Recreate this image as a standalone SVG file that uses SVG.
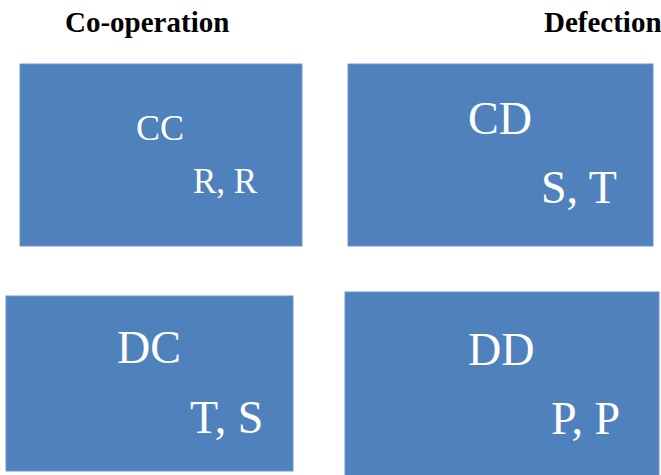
<svg xmlns="http://www.w3.org/2000/svg" width="661" height="475" viewBox="0 0 661 475">
<style>
.box{fill:#4F81BD;stroke:#7096C8;stroke-width:1}
.hd{font-family:"Liberation Serif","Times New Roman",serif;font-weight:bold;font-size:29px;fill:#000}
.lbl{font-family:"Liberation Serif","Times New Roman",serif;fill:#fff}
</style>
<rect width="661" height="475" fill="#fff"/>
<g id="headers">
<text class="hd" x="65" y="32">Co-operation</text>
<text class="hd" x="544" y="32">Defection</text>
</g>
<g id="CC">
<rect class="box" x="20" y="64" width="282" height="182"/>
<text class="lbl" x="136" y="140" style="font-size:36px">CC</text>
<text class="lbl" x="193" y="193" style="font-size:35px">R, R</text>
</g>
<g id="CD">
<rect class="box" x="348" y="64" width="305" height="182"/>
<text class="lbl" x="468" y="134" style="font-size:46px">CD</text>
<text class="lbl" x="541" y="203" style="font-size:46px">S, T</text>
</g>
<g id="DC">
<rect class="box" x="6" y="296" width="287" height="175"/>
<text class="lbl" x="117" y="363" style="font-size:46px">DC</text>
<text class="lbl" x="190" y="433" style="font-size:46px">T, S</text>
</g>
<g id="DD">
<rect class="box" x="345" y="292" width="314" height="184"/>
<text class="lbl" x="468" y="365" style="font-size:46px">DD</text>
<text class="lbl" x="551" y="434" style="font-size:46px">P, P</text>
</g>
<g id="connectors"></g>
</svg>
